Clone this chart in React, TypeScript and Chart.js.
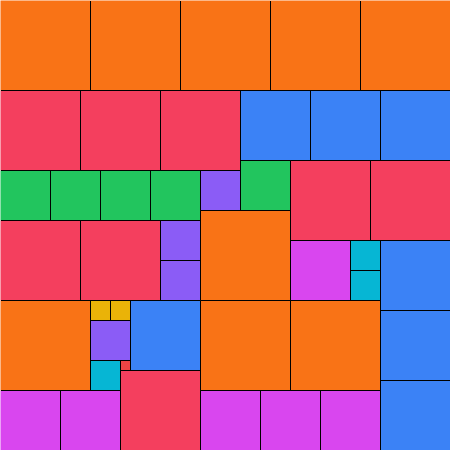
import React, { useEffect, useRef } from "react";
import { Chart, registerables } from "chart.js";

Chart.register(...registerables);

// Square side lengths (one group per side) and their colours
const groupSides = [90, 80, 70, 60, 50, 40, 30, 20, 10];
const groupColors = [
  "#f97316",
  "#f43f5e",
  "#3b82f6",
  "#d946ef",
  "#22c55e",
  "#8b5cf6",
  "#06b6d4",
  "#eab308",
  "#ef4444",
];

// Cell origins (data units) and the group each cell belongs to
const cellX = [
  0, 90, 180, 270, 360, 200, 0, 200, 290,
  0, 80, 160, 290, 370, 0, 80, 120,
  240, 310, 380, 380, 130, 380, 380,
  290, 0, 60, 200, 260, 320,
  0, 50, 100, 150, 240,
  200, 160, 160, 90,
  350, 350, 90,
  90, 110,
  120,
];
const cellY = [
  0, 0, 0, 0, 0, 210, 300, 300, 300,
  90, 90, 90, 160, 160, 220, 220, 370,
  90, 90, 90, 240, 300, 310, 380,
  240, 390, 390, 390, 390, 390,
  170, 170, 170, 170, 160,
  170, 220, 260, 320,
  240, 270, 360,
  300, 300,
  360,
];
const cellGroup = [
  0, 0, 0, 0, 0, 0, 0, 0, 0,
  1, 1, 1, 1, 1, 1, 1, 1,
  2, 2, 2, 2, 2, 2, 2,
  3, 3, 3, 3, 3, 3,
  4, 4, 4, 4, 4,
  5, 5, 5, 5,
  6, 6, 6,
  7, 7,
  8,
];

const extentMin = 0;
const extentMax = 450;

export default function App() {
  const canvasRef = useRef<HTMLCanvasElement | null>(null);

  useEffect(() => {
    const canvas = canvasRef.current;
    if (!canvas) return;

    const datasets = cellX.map((x, i) => {
      const y = cellY[i];
      const s = groupSides[cellGroup[i]];
      return {
        label: `cell ${i}`,
        data: [
          { x: x, y: y },
          { x: x + s, y: y },
          { x: x + s, y: y + s },
          { x: x, y: y + s },
          { x: x, y: y },
        ],
        showLine: true,
        fill: "shape" as const,
        backgroundColor: groupColors[cellGroup[i]],
        borderColor: "#000000",
        borderWidth: 1,
        borderJoinStyle: "miter" as const,
        pointRadius: 0,
        pointHoverRadius: 0,
        tension: 0,
        clip: { left: -1, top: -1, right: 0, bottom: 0 },
      };
    });

    const chart = new Chart(canvas, {
      type: "scatter",
      data: { datasets },
      options: {
        animation: false,
        responsive: false,
        devicePixelRatio: 1,
        events: [],
        layout: { padding: 0 },
        plugins: {
          legend: { display: false },
          tooltip: { enabled: false },
          title: { display: false },
        },
        scales: {
          x: {
            type: "linear",
            display: false,
            min: extentMin - 0.5,
            max: extentMax - 0.5,
          },
          y: {
            type: "linear",
            display: false,
            reverse: true,
            min: extentMin - 0.5,
            max: extentMax - 0.5,
          },
        },
      },
    });

    return () => chart.destroy();
  }, []);

  return (
    <div style={{ position: "fixed", left: 0, top: 0, width: 450, height: 450, background: "#ffffff" }}>
      <canvas ref={canvasRef} width={450} height={450} style={{ display: "block" }} />
    </div>
  );
}
